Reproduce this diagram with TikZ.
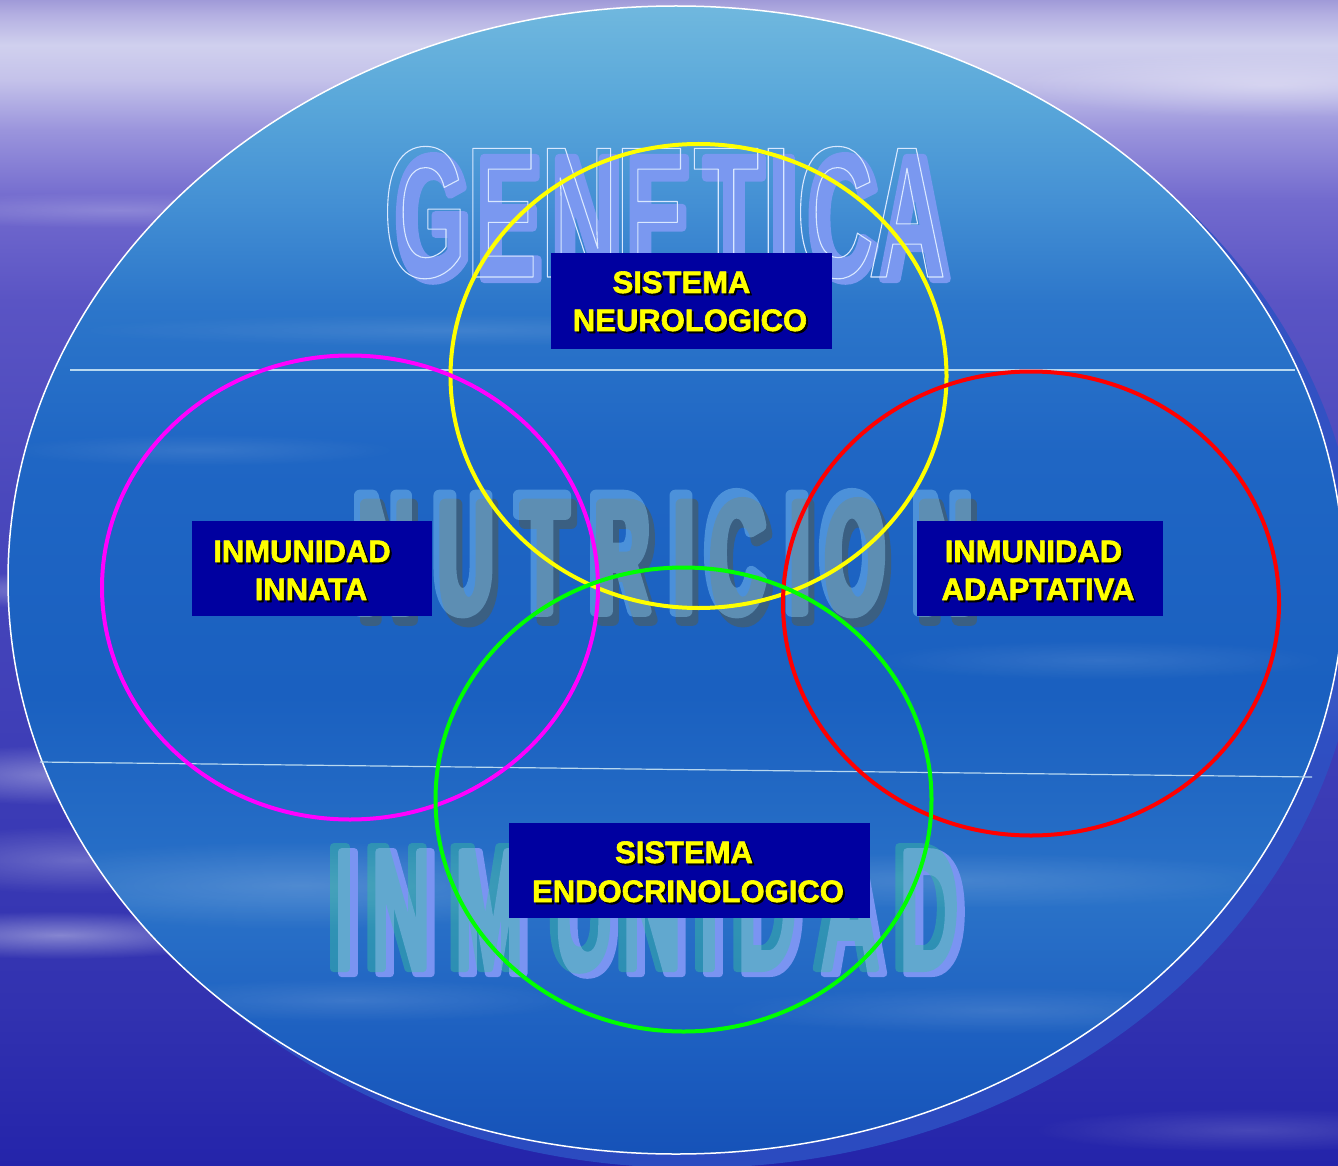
\documentclass[tikz,border=0pt]{standalone}
\usepackage{fontspec}
\usetikzlibrary{fadings}
\setmainfont{Liberation Sans}
\newfontfamily\lblfont{Liberation Sans Bold}
\newfontfamily\genfont[FakeStretch=0.54]{Liberation Sans Bold}
\newfontfamily\genofont[FakeStretch=0.575]{Liberation Sans Bold}
\newfontfamily\nutfont[FakeStretch=0.47]{Liberation Sans Bold}
\newfontfamily\inmfont[FakeStretch=0.50]{Liberation Sans Bold}
% stroked (thickened) glyph: #1 line width, #2 stroke rgb, #3 text
\newcommand\thk[3]{\special{pdf:literal direct 2 Tr 1 j #1 w #2 RG}#3\special{pdf:literal direct 0 Tr}}
% hollow outline glyph
\newcommand\hol[3]{\special{pdf:literal direct 1 Tr 1 j #1 w #2 RG}#3\special{pdf:literal direct 0 Tr}}

\tikzfading[name=softblob, inner color=transparent!0, outer color=transparent!100]

\definecolor{bgA}{HTML}{A09AD8}
\definecolor{bgB}{HTML}{B4B0E2}
\definecolor{bgC}{HTML}{D0D0EE}
\definecolor{bgD}{HTML}{C4C2EA}
\definecolor{bgE}{HTML}{9A94DC}
\definecolor{bgF}{HTML}{726ACE}
\definecolor{bgG}{HTML}{5A54C4}
\definecolor{bgH}{HTML}{4A48BC}
\definecolor{bgI}{HTML}{4040B8}
\definecolor{bgJ}{HTML}{3232B0}
\definecolor{bgK}{HTML}{2424AA}
\definecolor{elA}{HTML}{70B8DE}
\definecolor{elB}{HTML}{5AA8DA}
\definecolor{elC}{HTML}{4490D4}
\definecolor{elD}{HTML}{2C76CA}
\definecolor{elE}{HTML}{1F66C4}
\definecolor{elF}{HTML}{1A60C0}
\definecolor{elG}{HTML}{2A72C8}
\definecolor{elH}{HTML}{1C5EC0}
\definecolor{elI}{HTML}{1652B8}
\definecolor{ringblue}{HTML}{2D52C4}
\definecolor{hlinec}{HTML}{B8D8F0}
\definecolor{boxblue}{HTML}{0000A0}
\definecolor{lblyellow}{HTML}{FFFF00}
\definecolor{cyel}{HTML}{FFFF00}
\definecolor{cmag}{HTML}{FF00FF}
\definecolor{cred}{HTML}{FF0000}
\definecolor{cgrn}{HTML}{00FF00}
\definecolor{genFill}{HTML}{7A98F0}
\definecolor{genLine}{HTML}{D8E8FF}
\definecolor{nutLite}{HTML}{92D5FE}
\definecolor{nutDark}{HTML}{3A5F82}
\definecolor{inmLite}{HTML}{3CC89B}
\definecolor{inmPeri}{HTML}{7A94F2}

\pgfdeclareverticalshading{bgsh}{100bp}{color(0bp)=(bgK); color(25bp)=(bgK); color(32bp)=(bgJ); color(45bp)=(bgI); color(53.6bp)=(bgH); color(62.1bp)=(bgG); color(66.4bp)=(bgF); color(69.4bp)=(bgE); color(71.57bp)=(bgD); color(73.07bp)=(bgC); color(74.36bp)=(bgB); color(75bp)=(bgA); color(100bp)=(bgA)}
\pgfdeclareverticalshading{ellsh}{100bp}{color(0bp)=(elI); color(25bp)=(elI); color(29.5bp)=(elH); color(36bp)=(elG); color(45bp)=(elF); color(55.5bp)=(elE); color(62bp)=(elD); color(66.5bp)=(elC); color(71bp)=(elB); color(75bp)=(elA); color(100bp)=(elA)}

\begin{document}
\begin{tikzpicture}[x=1pt,y=-1pt,
  hline/.style={draw=hlinec, line width=1.2pt},
  ringline/.style={line width=4pt},
  streak/.style={fill=white, path fading=softblob},
  lbox/.style={fill=boxblue, draw=none, inner sep=0pt},
  lbl/.style={font=\lblfont\fontsize{31}{31}\selectfont, text=lblyellow, inner sep=0pt, anchor=base},
  lblsh/.style={lbl, text=black},
  genl/.style={font=\genfont\fontsize{176}{176}\selectfont, inner sep=0pt, anchor=base},
  genol/.style={font=\genofont\fontsize{187}{187}\selectfont, inner sep=0pt, anchor=base},
  nutl/.style={font=\nutfont\fontsize{168}{168}\selectfont, inner sep=0pt, anchor=base},
  inml/.style={font=\inmfont\fontsize{177}{177}\selectfont, inner sep=0pt, anchor=base}]

\useasboundingbox (0,0) rectangle (1338,1166);
% background
\shade[shading=bgsh] (0,0) rectangle (1338,1166);
% background streaks
\fill[streak, opacity=0.40] (60,935) ellipse [x radius=200, y radius=24];
\fill[streak, opacity=0.35] (60,775) ellipse [x radius=180, y radius=30];
\fill[streak, opacity=0.25] (80,860) ellipse [x radius=200, y radius=34];
\fill[streak, opacity=0.30] (50,590) ellipse [x radius=150, y radius=18];
\fill[streak, opacity=0.20] (120,210) ellipse [x radius=260, y radius=18];
\fill[streak, opacity=0.35] (1270,85) ellipse [x radius=260, y radius=32];
\fill[streak, opacity=0.30] (1310,700) ellipse [x radius=150, y radius=38];
\fill[streak, opacity=0.20] (1300,560) ellipse [x radius=140, y radius=22];
\fill[streak, opacity=0.15] (1250,1130) ellipse [x radius=220, y radius=22];
% big ellipse with its lighter rim
\fill[ringblue, opacity=0.85] (692,594) ellipse [x radius=668, y radius=574];
\shade[shading=ellsh] (676,580) ellipse [x radius=668, y radius=574];
% streaks inside the ellipse
\begin{scope}
  \clip (676,580) ellipse [x radius=668, y radius=574];
  \fill[streak, opacity=0.18] (300,885) ellipse [x radius=340, y radius=44];
  \fill[streak, opacity=0.14] (950,880) ellipse [x radius=360, y radius=28];
  \fill[streak, opacity=0.12] (1000,1010) ellipse [x radius=280, y radius=24];
  \fill[streak, opacity=0.10] (450,330) ellipse [x radius=380, y radius=16];
  \fill[streak, opacity=0.10] (200,450) ellipse [x radius=200, y radius=16];
  \fill[streak, opacity=0.10] (1100,660) ellipse [x radius=230, y radius=20];
  \fill[streak, opacity=0.12] (350,1000) ellipse [x radius=230, y radius=22];
\end{scope}
\draw[white, line width=1.5pt] (676,580) ellipse [x radius=668, y radius=574];

% horizontal dividers
\coordinate (l1a) at (70,370);
\coordinate (l1b) at (1295,370);
\coordinate (l2a) at (40,762);
\coordinate (l2b) at (1312,777);
\draw[hline] (l1a) -- (l1b);
\draw[hline] (l2a) -- (l2b);

% GENETICA
\foreach \ch/\cx [count=\i] in {G/433,E/509.5,N/587,E/659,T/734,I/784,C/843,A/915}
  \node[genl, text=genFill] (genF\i) at (\cx,279) {\thk{8.1}{0.478 0.596 0.941}{\ch}};
\foreach \ch/\cx [count=\i] in {G/425,E/501.5,N/579,E/651,T/726,I/776,C/835,A/907}
  \node[genol, text=genLine] (genO\i) at (\cx,277) {\hol{1.1}{0.85 0.91 1}{\ch}};

% NUTRICION: opaque dark shadow, translucent light face on top
\foreach \ch/\cx [count=\i] in {N/383,U/463,T/542,R/619,I/681,C/735,I/797,O/852,N/942}
  \node[nutl, text=nutDark] (nutD\i) at (\cx+6,620) {\thk{11.5}{0.227 0.373 0.51}{\ch}};
\begin{scope}[transparency group, opacity=0.4]
\foreach \ch/\cx [count=\i] in {N/383,U/463,T/542,R/619,I/681,C/735,I/797,O/852,N/942}
  \node[nutl, text=nutLite] (nutM\i) at (\cx,611) {\thk{11.5}{0.573 0.835 0.996}{\ch}};
\end{scope}

% INMUNIDAD: opaque periwinkle shadow, translucent green face on top
\foreach \ch/\cx [count=\i] in {I/340,N/397,M/485,U/580,N/648,I/705,D/763,A/846,D/925}
  \node[inml, text=inmPeri] (inmP\i) at (\cx+8,973.5) {\thk{7.1}{0.478 0.58 0.949}{\ch}};
\begin{scope}[transparency group, opacity=0.4]
\foreach \ch/\cx [count=\i] in {I/340,N/397,M/485,U/580,N/648,I/705,D/763,A/846,D/925}
  \node[inml, text=inmLite] (inmM\i) at (\cx,968.5) {\thk{7.1}{0.235 0.784 0.608}{\ch}};
\end{scope}

% coloured rings
\draw[ringline, cyel] (698.5,376) ellipse [x radius=248, y radius=232];
\draw[ringline, cmag] (350,587.5) ellipse [x radius=248, y radius=232];
\draw[ringline, cred] (1031,603.5) ellipse [x radius=248, y radius=232];
\draw[ringline, cgrn] (683.5,799.5) ellipse [x radius=248, y radius=232];

% label boxes
\node[lbox, minimum width=281pt, minimum height=96pt] (neuro) at (691.5,301) {};
\node[lbox, minimum width=240pt, minimum height=95pt] (innata) at (312,568.5) {};
\node[lbox, minimum width=246pt, minimum height=95pt] (adapt) at (1040,568.5) {};
\node[lbox, minimum width=361pt, minimum height=95pt] (endo) at (689.5,870.5) {};

% labels (shadow first)
\node[lblsh] (neuroAs) at (683.5,295) {\thk{0.6}{0 0 0}{SISTEMA}};
\node[lbl]   (neuroA)  at (681.5,293) {\thk{0.6}{1 1 0}{SISTEMA}};
\node[lblsh] (neuroBs) at (692,333) {\thk{0.6}{0 0 0}{NEUROLOGICO}};
\node[lbl]   (neuroB)  at (690,331) {\thk{0.6}{1 1 0}{NEUROLOGICO}};

\node[lblsh] (innAs) at (304,564) {\thk{0.6}{0 0 0}{INMUNIDAD}};
\node[lbl]   (innA)  at (302,562) {\thk{0.6}{1 1 0}{INMUNIDAD}};
\node[lblsh] (innBs) at (313,602) {\thk{0.6}{0 0 0}{INNATA}};
\node[lbl]   (innB)  at (311,600) {\thk{0.6}{1 1 0}{INNATA}};

\node[lblsh] (adaAs) at (1035.5,564) {\thk{0.6}{0 0 0}{INMUNIDAD}};
\node[lbl]   (adaA)  at (1033.5,562) {\thk{0.6}{1 1 0}{INMUNIDAD}};
\node[lblsh] (adaBs) at (1040,602) {\thk{0.6}{0 0 0}{ADAPTATIVA}};
\node[lbl]   (adaB)  at (1038,600) {\thk{0.6}{1 1 0}{ADAPTATIVA}};

\node[lblsh] (endAs) at (686,865) {\thk{0.6}{0 0 0}{SISTEMA}};
\node[lbl]   (endA)  at (684,863) {\thk{0.6}{1 1 0}{SISTEMA}};
\node[lblsh] (endBs) at (690,904) {\thk{0.6}{0 0 0}{ENDOCRINOLOGICO}};
\node[lbl]   (endB)  at (688,902) {\thk{0.6}{1 1 0}{ENDOCRINOLOGICO}};
\end{tikzpicture}
\end{document}
